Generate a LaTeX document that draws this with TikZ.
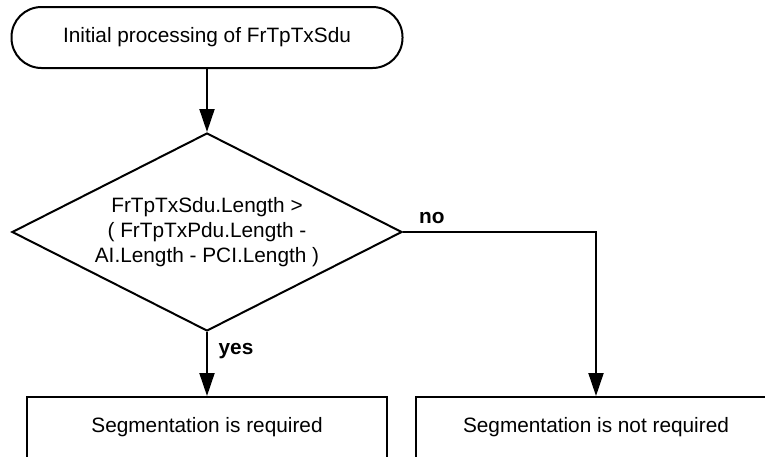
\documentclass[tikz,border=0pt]{standalone}
\usepackage{fontspec}
\setmainfont{Liberation Sans}
\usetikzlibrary{shapes.geometric, arrows.meta, positioning}

\begin{document}
\begin{tikzpicture}[
    x=0.5pt, y=-0.5pt,
    font=\fontsize{10.4}{12.6}\selectfont,
    terminal/.style={draw, line width=1pt, rounded corners=15pt, minimum width=195.5pt, minimum height=30.5pt},
    decision/.style={draw, diamond, line width=1pt, aspect=1.97, inner sep=0pt, minimum width=195pt, minimum height=99pt, align=center},
    process/.style={draw, line width=1pt, minimum width=180pt, minimum height=30.5pt},
    flow/.style={-{Triangle[length=11.5pt, width=7.5pt]}, line width=1pt},
    answer/.style={font=\fontsize{10.4}{12.6}\selectfont\bfseries}
]
    \useasboundingbox (0,0) rectangle (765,456);
    \clip (0,0) rectangle (765,456);

    % Start
    \node[terminal] (start) at (207, 37.5) {Initial processing of FrTpTxSdu};

    % Length check
    \node[decision] (check) at (207, 232) {FrTpTxSdu.Length >\\( FrTpTxPdu.Length -\\AI.Length - PCI.Length )};

    % Results
    \node[process] (req) at (207, 427.5) {Segmentation is required};
    \node[process] (notreq) at (596, 427.5) {Segmentation is not required};

    % Flow
    \draw[flow] (start) -- (check);
    \draw[flow] (check) -- node[answer, right, pos=0.3, xshift=2pt] (yeslbl) {yes} (req);
    \draw[flow] (check.east) -| (notreq.north);
    \node[answer, anchor=south west] (nolbl) at (412, 231) {no};

\end{tikzpicture}
\end{document}
